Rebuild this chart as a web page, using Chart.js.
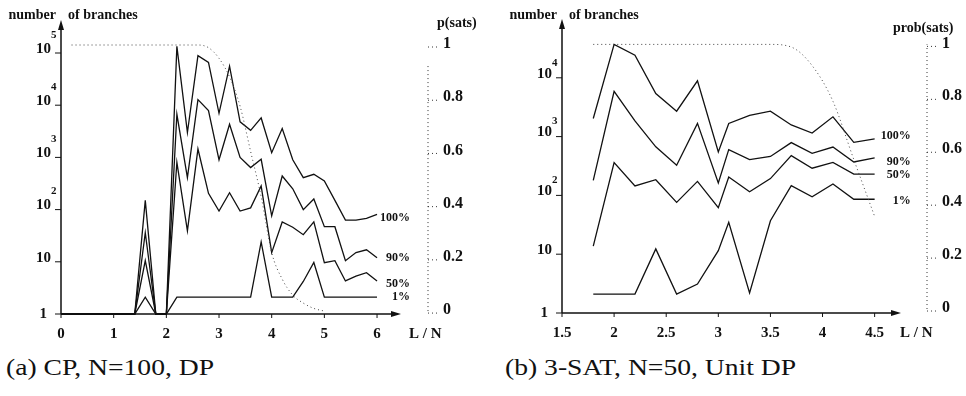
<!DOCTYPE html>
<html>
<head>
<meta charset="utf-8">
<script src="https://cdn.jsdelivr.net/npm/chart.js@4.4.1/dist/chart.umd.min.js"></script>
<style>
  html, body { margin: 0; padding: 0; background: #fff; }
  body { width: 966px; height: 396px; position: relative; overflow: hidden; }
  .panel { position: absolute; top: 0; width: 483px; height: 350px; }
  #wrapA { left: 0; }
  #wrapB { left: 483px; }
  .cap { position: absolute; top: 354px; font-family: "Liberation Serif", serif; font-size: 24px; color: #111;
         white-space: nowrap; transform: scaleX(1.15); transform-origin: 0 0; }
</style>
</head>
<body>
<div class="panel" id="wrapA"><canvas id="chartA" width="483" height="350"></canvas></div>
<div class="panel" id="wrapB"><canvas id="chartB" width="483" height="350"></canvas></div>
<div class="cap" style="left:6px">(a) CP, N=100, DP</div>
<div class="cap" style="left:505px">(b) 3-SAT, N=50, Unit DP</div>

<script>
// series names (labels at the line ends)
const seriesNames = ['100%', '90%', '50%', '1%'];

// (a) CP, N=100, DP  -- L/N values
const xLeft = [0, 0.2, 0.4, 0.6, 0.8, 1.0, 1.2, 1.4, 1.6, 1.8, 2.0, 2.2, 2.4, 2.6, 2.8, 3.0,
               3.2, 3.4, 3.6, 3.8, 4.0, 4.2, 4.4, 4.6, 4.8, 5.0, 5.2, 5.4, 5.6, 5.8, 6.0];
const left100 = [1, 1, 1, 1, 1, 1, 1, 1, 150, 1, 1, 134000, 3000, 89000, 66000, 7000,
                 56000, 4800, 3300, 5700, 1230, 3560, 900, 410, 475, 355, 150, 63, 63, 68, 81];
const left90 = [1, 1, 1, 1, 1, 1, 1, 1, 36, 1, 1, 6700, 410, 12800, 7900, 900,
                4300, 1000, 640, 920, 76, 440, 250, 100, 160, 47, 47, 10.5, 15, 17, 12];
const left50 = [1, 1, 1, 1, 1, 1, 1, 1, 10.5, 1, 1, 800, 39, 1450, 205, 94,
                210, 94, 108, 284, 15, 58, 46, 33, 58, 9.6, 10.5, 4.3, 5.3, 6.2, 4.3];
const left1 = [1, 1, 1, 1, 1, 1, 1, 1, 2.1, 1, 1, 2.1, 2.1, 2.1, 2.1, 2.1,
               2.1, 2.1, 2.1, 24, 2.1, 2.1, 2.1, 4.2, 9.7, 2.1, 2.1, 2.1, 2.1, 2.1, 2.1];
const xLeftSats = [0.2, 0.4, 0.6, 0.8, 1.0, 1.2, 1.4, 1.6, 1.8, 2.0, 2.2, 2.4, 2.6,
                   2.8, 3.0, 3.2, 3.4, 3.6, 3.8, 4.0, 4.2, 4.4, 4.6, 4.8, 5.0];
const leftSats = [1, 1, 1, 1, 1, 1, 1, 1, 1, 1, 1, 1, 1,
                  0.99, 0.95, 0.88, 0.77, 0.6, 0.43, 0.22, 0.12, 0.06, 0.03, 0.01, 0];

// (b) 3-SAT, N=50, Unit DP
const xRight = [1.8, 2.0, 2.2, 2.4, 2.6, 2.8, 3.0, 3.1, 3.3, 3.5, 3.7, 3.9, 4.1, 4.3, 4.5];
const right100 = [2030, 37000, 24300, 5400, 2700, 8900, 550, 1670, 2300, 2700, 1580, 1150, 2170, 800, 915];
const right90 = [180, 5900, 1850, 670, 325, 1680, 163, 600, 405, 460, 790, 520, 665, 370, 435];
const right50 = [13.7, 360, 145, 185, 76, 173, 62, 205, 115, 193, 475, 290, 365, 230, 230];
const right1 = [2.1, 2.1, 2.1, 12.3, 2.1, 3.1, 11.5, 35, 2.2, 37, 146, 95, 156, 86, 86];
const rightSats = [1, 1, 1, 1, 1, 1, 1, 1, 1, 1, 0.99, 0.92, 0.785, 0.565, 0.35];

// tick labels
const logTicksLeft = [1, 10, 100, 1000, 10000, 100000];
const logTicksRight = [1, 10, 100, 1000, 10000];
const xTicksLeft = [0, 1, 2, 3, 4, 5, 6];
const xTicksRight = [1.5, 2, 2.5, 3, 3.5, 4, 4.5];
const satTicks = [0, 0.2, 0.4, 0.6, 0.8, 1];

const ink = '#111';
const serif = '"Liberation Serif", "Times New Roman", serif';

function toPoints(xs, ys) {
  return ys.map((v, i) => ({ x: xs[i], y: v }));
}

function arrowHead(ctx, x, y, dir) {
  ctx.beginPath();
  if (dir === 'up') {
    ctx.moveTo(x, y); ctx.lineTo(x - 3, y + 10); ctx.lineTo(x + 3, y + 10);
  } else {
    ctx.moveTo(x, y); ctx.lineTo(x - 10, y - 3); ctx.lineTo(x - 10, y + 3);
  }
  ctx.closePath();
  ctx.fill();
}

// draws the paper-style axes, tick labels, the p(sats) axis and line end labels
const paperAxes = {
  id: 'paperAxes',
  afterDatasetsDraw(chart, args, o) {
    const { ctx, chartArea: a, scales } = chart;
    const x = scales.x, y = scales.y, p = scales.p;
    ctx.save();
    ctx.strokeStyle = ink;
    ctx.fillStyle = ink;

    // main axes with arrows
    ctx.lineWidth = 1.5;
    ctx.beginPath();
    ctx.moveTo(a.left, a.bottom); ctx.lineTo(a.left, a.top + 4);
    ctx.moveTo(a.left, a.bottom); ctx.lineTo(a.right - 4, a.bottom);
    ctx.stroke();
    arrowHead(ctx, a.left, a.top, 'up');
    arrowHead(ctx, a.right, a.bottom, 'right');

    // y ticks: 1, 10, 10^2 ...
    ctx.lineWidth = 1;
    ctx.textBaseline = 'middle';
    o.yTicks.forEach(v => {
      const py = y.getPixelForValue(v);
      ctx.beginPath(); ctx.moveTo(a.left - 6, py); ctx.lineTo(a.left, py); ctx.stroke();
      const e = Math.round(Math.log10(v));
      ctx.font = 'bold 15px ' + serif;
      ctx.textAlign = 'right';
      if (e === 0) {
        ctx.fillText('1', a.left - 14, py);
      } else {
        ctx.fillText('10', a.left - 10, py - 4);
        if (e > 1) {
          ctx.font = 'bold 11px ' + serif;
          ctx.textAlign = 'left';
          ctx.fillText(String(e), a.left - 10, py - o.expRaise);
        }
      }
    });

    // x ticks
    ctx.font = 'bold 15px ' + serif;
    ctx.textAlign = 'center';
    o.xTicks.forEach(v => {
      const px = x.getPixelForValue(v);
      ctx.beginPath(); ctx.moveTo(px, a.bottom); ctx.lineTo(px, a.bottom + 4); ctx.stroke();
      ctx.fillText(String(v), px, a.bottom + 20);
    });
    ctx.textAlign = 'left';
    ctx.fillText('L / N', a.right + o.lnDx, a.bottom + 20);

    // axis titles
    ctx.font = 'bold 14px ' + serif;
    ctx.textAlign = 'right';
    ctx.fillText('number', a.left - 5, 15);
    ctx.textAlign = 'left';
    ctx.fillText('of branches', a.left + 7, 15);
    ctx.fillText(o.pTitle, a.right + o.pTitleDx, o.pTitleY);

    // p(sats) axis, dotted
    const px0 = a.right + o.pGap;
    ctx.strokeStyle = '#333';
    ctx.setLineDash([1, 3]);
    ctx.beginPath();
    ctx.moveTo(px0, p.getPixelForValue(0));
    ctx.lineTo(px0, p.getPixelForValue(o.pAxisTop));
    ctx.stroke();
    satTicks.forEach(v => {
      const py = p.getPixelForValue(v);
      ctx.beginPath(); ctx.moveTo(px0, py + 2); ctx.lineTo(px0 + 12, py + 2); ctx.stroke();
    });
    ctx.setLineDash([]);
    ctx.font = 'bold 16px ' + serif;
    satTicks.forEach(v => {
      ctx.fillText(String(v), px0 + 15, p.getPixelForValue(v) - 1);
    });

    // line end labels
    ctx.font = 'bold 12px ' + serif;
    ctx.textAlign = 'right';
    o.endSets.forEach((ys, i) => {
      const lx = x.getPixelForValue(o.endX);
      const ly = y.getPixelForValue(ys[ys.length - 1]);
      ctx.fillText(seriesNames[i], lx + o.endDx, ly + o.endDy[i]);
    });
    ctx.restore();
  }
};

function lineSet(xs, ys) {
  return {
    data: toPoints(xs, ys), yAxisID: 'y',
    borderColor: ink, borderWidth: 1.3, pointRadius: 0, tension: 0, clip: false
  };
}

function satSet(xs, ys) {
  return {
    data: toPoints(xs, ys), yAxisID: 'p',
    borderColor: '#444', borderWidth: 1, borderDash: [1, 3], pointRadius: 0,
    cubicInterpolationMode: 'monotone', clip: false
  };
}

function makeChart(id, cfg) {
  return new Chart(document.getElementById(id), {
    type: 'line',
    data: { datasets: cfg.datasets },
    options: {
      responsive: false,
      animation: false,
      layout: { padding: cfg.padding },
      plugins: { legend: { display: false }, tooltip: { enabled: false }, paperAxes: cfg.axes },
      scales: {
        x: { type: 'linear', min: cfg.xMin, max: cfg.xMax, display: false },
        y: { type: 'logarithmic', min: 1, max: cfg.yMax, display: false },
        p: { type: 'linear', min: cfg.pMin, max: cfg.pMax, display: false }
      }
    },
    plugins: [paperAxes]
  });
}

makeChart('chartA', {
  datasets: [
    satSet(xLeftSats, leftSats),
    lineSet(xLeft, left100), lineSet(xLeft, left90), lineSet(xLeft, left50), lineSet(xLeft, left1)
  ],
  padding: { left: 61, right: 82, top: 20, bottom: 36 },
  xMin: 0, xMax: 6.455,
  yMax: Math.pow(10, 294 / 52.2),
  pMin: -0.011, pMax: 1.094,
  axes: {
    xTicks: xTicksLeft, yTicks: logTicksLeft, lnDx: 8, expRaise: 18,
    pTitle: 'p(sats)', pTitleDx: 36, pTitleY: 23, pGap: 27, pAxisTop: 0.93,
    endSets: [left100, left90, left50, left1], endX: 6, endDx: 33, endDy: [4, 0, 3, 0]
  }
});

makeChart('chartB', {
  datasets: [
    satSet(xRight, rightSats),
    lineSet(xRight, right100), lineSet(xRight, right90), lineSet(xRight, right50), lineSet(xRight, right1)
  ],
  padding: { left: 79, right: 65, top: 19, bottom: 37 },
  xMin: 1.5, xMax: 4.753,
  yMax: Math.pow(10, 294 / 58.8),
  pMin: -0.015, pMax: 1.096,
  axes: {
    xTicks: xTicksRight, yTicks: logTicksRight, lnDx: -1, expRaise: 15,
    pTitle: 'prob(sats)', pTitleDx: -8, pTitleY: 28, pGap: 26, pAxisTop: 1,
    endSets: [right100, right90, right50, right1], endX: 4.5, endDx: 36, endDy: [-3, 4, 1, 2]
  }
});
</script>
</body>
</html>
